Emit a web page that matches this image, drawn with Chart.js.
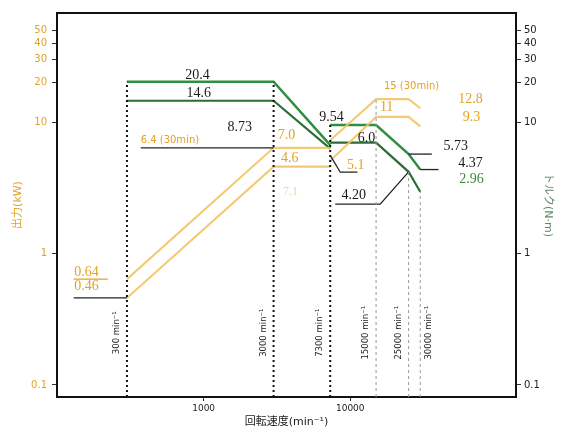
<!DOCTYPE html>
<html>
<head>
<meta charset="utf-8">
<script src="https://cdn.jsdelivr.net/npm/chart.js@4.4.0/dist/chart.umd.min.js"></script>
<style>
html, body { margin: 0; padding: 0; background: #fff; }
</style>
</head>
<body>
<canvas id="motorChart" width="561" height="433"></canvas>
<script>
// speed in min^-1, power in kW, torque in N·m (both on the same log scale)
var speedLow = [300, 3000, 7300];
var torque30Low = [20.4, 20.4, 6.7];
var torqueContLow = [14.6, 14.6, 6.3];
var power30Low = [0.64, 6.4, 6.4];
var powerContLow = [0.46, 4.6, 4.6];

var speedHigh = [7300, 15000, 25000, 30000];
var torque30High = [9.54, 9.54, 5.73, 4.37];
var torqueContHigh = [7.0, 7.0, 4.20, 2.96];
var power30High = [7.3, 15, 15, 12.8];
var powerContHigh = [5.1, 11, 11, 9.3];

var markSpeeds = [300, 3000, 7300, 15000, 25000, 30000];
var markTops = [20.4, 20.4, 9.54, 15, 4.2, 2.96];
var markText = ["300 min⁻¹", "3000 min⁻¹", "7300 min⁻¹", "15000 min⁻¹", "25000 min⁻¹", "30000 min⁻¹"];

var yTicks = [0.1, 1, 10, 20, 30, 40, 50];
var xTicks = [1000, 10000];

// leader lines  [speed, value] pairs
var leaderLines = [
  [[373, 6.4], [3000, 6.4]],
  [[130, 0.46], [300, 0.46]],
  [[7900, 2.38], [16000, 2.38], [25000, 4.2]],
  [[25000, 5.73], [36000, 5.73]],
  [[30000, 4.37], [40000, 4.37]],
  [[7300, 5.6], [8550, 4.17], [11200, 4.17]]
];

// value labels
var labelText = ["20.4", "14.6", "8.73", "6.4 (30min)", "7.0", "4.6", "7.1", "9.54", "6.0", "5.1", "4.20",
                 "15 (30min)", "11", "12.8", "9.3", "5.73", "4.37", "2.96", "0.64", "0.46"];
var labelX = [910, 925, 1760, 372, 3680, 3860, 3920, 7460, 12930, 10900, 10560,
              26200, 17700, 66000, 67000, 52400, 66000, 67000, 159, 159];
var labelY = [22.9, 16.7, 9.2, 7.33, 8.0, 5.35, 2.95, 10.97, 7.6, 4.73, 2.79,
              18.9, 13.07, 15.04, 10.97, 6.6, 4.9, 3.7, 0.72, 0.565];
var labelKind = ["num", "num", "num", "orangeSmall", "orange", "orange", "faint", "num", "num", "orange", "num",
                 "orangeSmall", "orange", "orange", "orange", "num", "num", "green", "orange", "orange"];

var orange = "#e3a126";
var serif = "'Liberation Serif', 'DejaVu Serif', serif";
var sans = "'DejaVu Sans', 'Noto Sans CJK JP', sans-serif";
var kindStyle = {
  num: { font: "14px " + serif, color: "#1a1a1a" },
  green: { font: "14px " + serif, color: "#3a8a3a" },
  orange: { font: "14px " + serif, color: orange },
  orangeSmall: { font: "10px " + sans, color: orange },
  faint: { font: "12px " + serif, color: "#ead9a0" }
};

function pts(xs, ys) {
  return xs.map(function (x, i) { return { x: x, y: ys[i] }; });
}
function pairPts(list) {
  return list.map(function (p) { return { x: p[0], y: p[1] }; });
}

function curve(data, color, width) {
  return { data: data, borderColor: color, borderWidth: width, showLine: true, pointRadius: 0, fill: false };
}

var datasets = [];

markSpeeds.forEach(function (s, i) {
  var heavy = i < 3;
  var ds = curve([{ x: s, y: 0.081 }, { x: s, y: markTops[i] }], heavy ? "#111" : "#9a9a9a", heavy ? 2 : 1);
  ds.borderDash = heavy ? [2, 3] : [3, 3];
  datasets.push(ds);
});

leaderLines.forEach(function (l) {
  datasets.push(curve(pairPts(l), "#222", 1.3));
});
datasets.push(curve(pairPts([[130, 0.64], [222, 0.64]]), orange, 1.3));

[[speedLow, power30Low], [speedLow, powerContLow], [speedHigh, power30High], [speedHigh, powerContHigh]].forEach(function (p) {
  datasets.push(curve(pts(p[0], p[1]), "rgba(244,198,100,0.85)", 2.2));
  datasets.push(curve(pts(p[0], p[1]), "rgba(190,140,140,0.7)", 0.7));
});

datasets.push(curve(pts(speedLow, torque30Low), "#2f8f40", 2.5));
datasets.push(curve(pts(speedLow, torqueContLow), "#2b6e36", 2.2));
datasets.push(curve(pts(speedHigh, torque30High), "#2f8f40", 2.5));
datasets.push(curve(pts(speedHigh, torqueContHigh), "#2b6e36", 2.2));

var textPlugin = {
  id: "texts",
  afterDatasetsDraw: function (chart) {
    var ctx = chart.ctx, xs = chart.scales.x, ys = chart.scales.y;
    ctx.save();
    ctx.textBaseline = "middle";
    labelText.forEach(function (t, i) {
      var st = kindStyle[labelKind[i]];
      ctx.font = st.font;
      ctx.fillStyle = st.color;
      ctx.textAlign = labelKind[i] === "orangeSmall" && t.indexOf("6.4") === 0 ? "left" : "center";
      ctx.fillText(t, xs.getPixelForValue(labelX[i]), ys.getPixelForValue(labelY[i]));
    });
    ctx.font = "8.5px " + sans;
    ctx.fillStyle = "#222";
    ctx.textAlign = "center";
    markSpeeds.forEach(function (s, i) {
      ctx.save();
      var dx = i === 5 ? 9 : -10;
      ctx.translate(xs.getPixelForValue(s) + dx, ys.getPixelForValue(0.25));
      ctx.rotate(-Math.PI / 2);
      ctx.fillText(markText[i], 0, 0);
      ctx.restore();
    });
    ctx.restore();
  }
};

function logY(position, color, title, titleColor, width) {
  return {
    type: "logarithmic",
    position: position,
    min: 0.081,
    max: 68,
    afterBuildTicks: function (s) { s.ticks = yTicks.map(function (v) { return { value: v }; }); },
    afterFit: function (s) { s.width = width; },
    ticks: {
      autoSkip: false,
      color: color,
      padding: position === "left" ? 5 : 3,
      font: { size: 10, family: sans },
      callback: function (v) { return String(v); }
    },
    grid: { display: true, drawOnChartArea: false, tickLength: 5, color: "#333" },
    border: { display: true, color: "#111", width: 2 },
    title: {
      display: true,
      text: title,
      color: titleColor,
      font: { size: 11, family: sans },
      padding: { top: position === "left" ? 12 : 7, bottom: 0 }
    }
  };
}

new Chart(document.getElementById("motorChart"), {
  type: "scatter",
  data: { datasets: datasets },
  options: {
    responsive: false,
    animation: false,
    events: [],
    layout: { padding: { top: 13, left: 0, right: 0, bottom: 0 } },
    plugins: { legend: { display: false }, tooltip: { enabled: false } },
    scales: {
      x: {
        type: "logarithmic",
        min: 100,
        max: 135000,
        afterBuildTicks: function (s) { s.ticks = xTicks.map(function (v) { return { value: v }; }); },
        afterFit: function (s) { s.height = 36; },
        ticks: {
          autoSkip: false,
          maxRotation: 0,
          color: "#222",
          padding: 2,
          font: { size: 9, family: sans },
          callback: function (v) { return String(v); }
        },
        grid: { display: true, drawOnChartArea: false, tickLength: 4, color: "#333" },
        border: { display: true, color: "#111", width: 2 },
        title: {
          display: true,
          text: "回転速度(min⁻¹)",
          color: "#222",
          font: { size: 11, family: sans },
          padding: { top: 0, bottom: 4 }
        }
      },
      x2: {
        type: "logarithmic",
        position: "top",
        min: 100,
        max: 135000,
        afterFit: function (s) { s.height = 0; },
        ticks: { display: false },
        grid: { display: false, drawTicks: false },
        border: { display: true, color: "#111", width: 2 }
      },
      y: logY("left", orange, "出力(kW)", orange, 57),
      y2: logY("right", "#222", "トルク(N·m)", "#5f8a62", 45)
    }
  },
  plugins: [textPlugin]
});
</script>
</body>
</html>
